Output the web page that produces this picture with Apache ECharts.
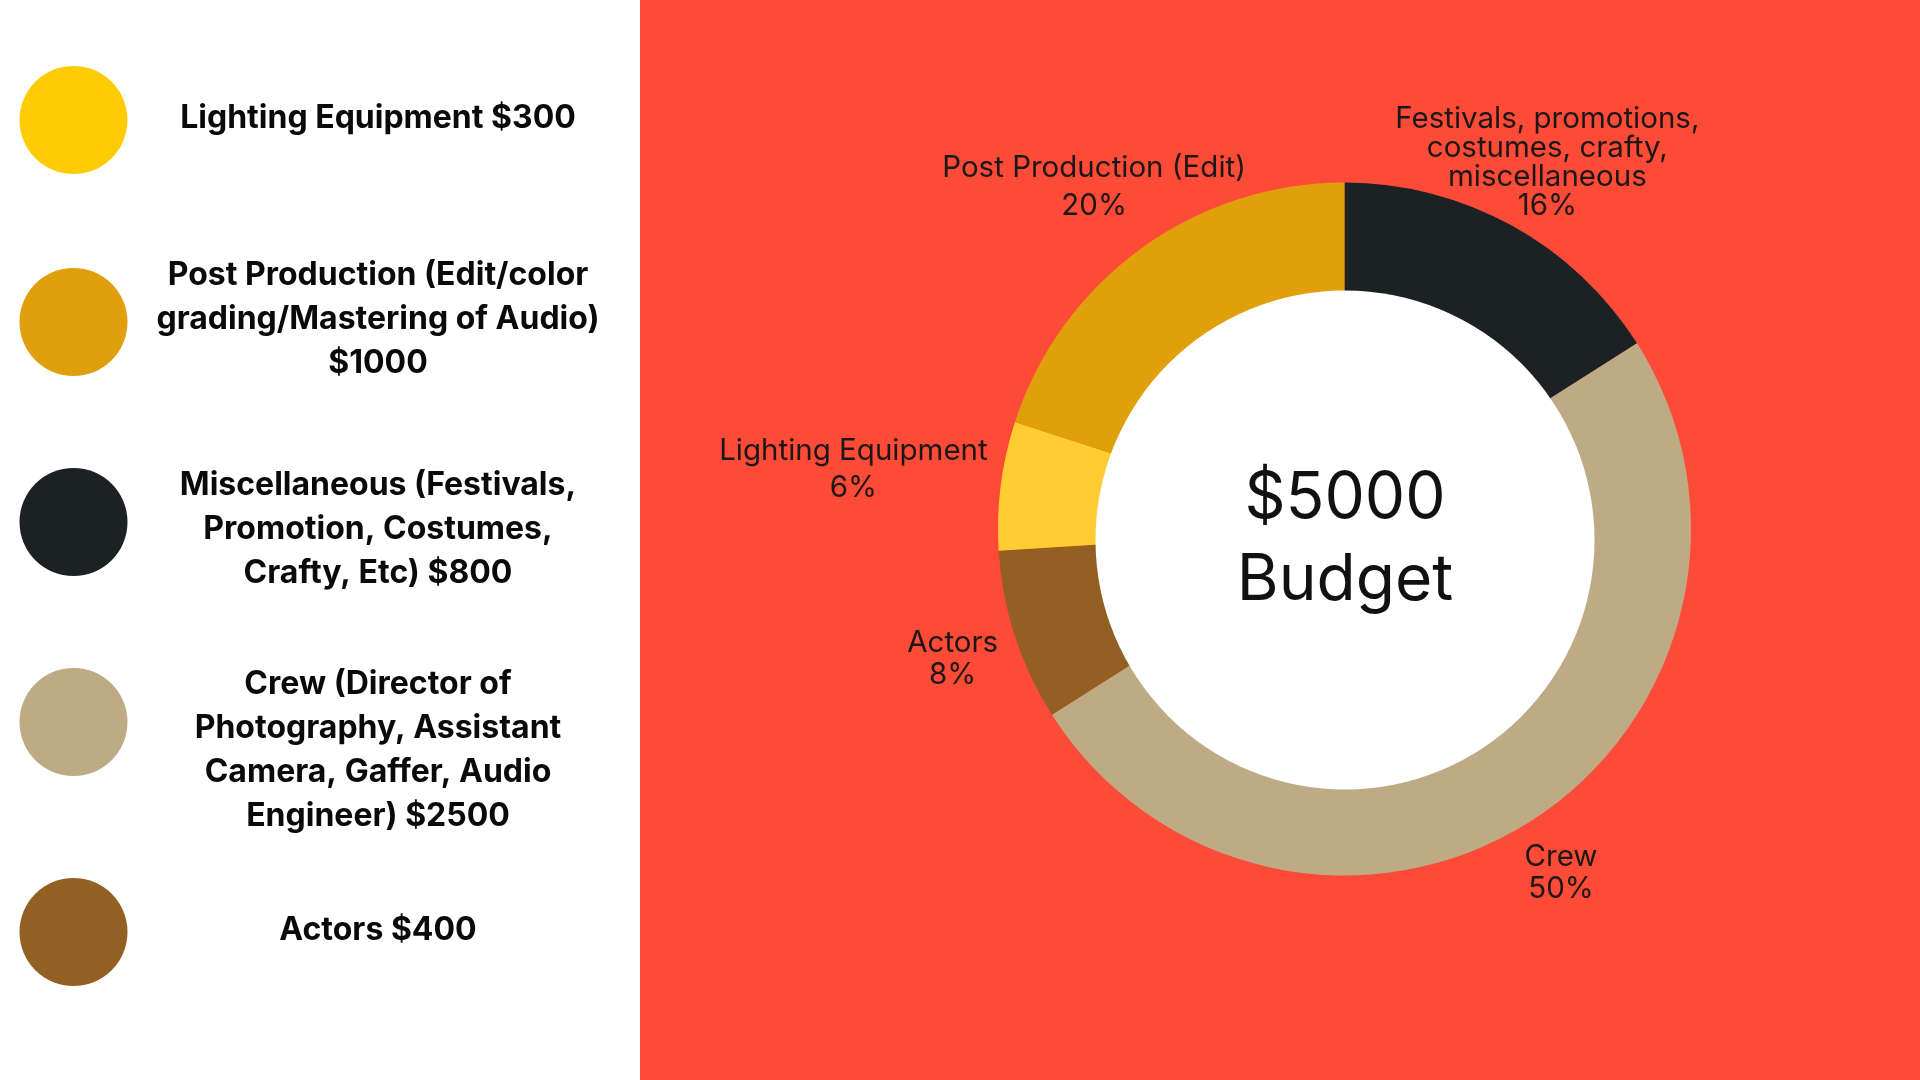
<!DOCTYPE html>
<html lang="en">
  <head>
    <meta charset="UTF-8" />
    <title>Budget</title>
    <script src="https://cdn.jsdelivr.net/npm/echarts@6/dist/echarts.min.js"></script>
    <style>
      html, body { margin: 0; padding: 0; }
      #main {
        width: 1920px;
        height: 1080px;
        background: linear-gradient(to right, #ffffff 0, #ffffff 640px, #fe4b38 640px);
      }
    </style>
  </head>
  <body>
    <div id="main"></div>
    <script>
      // slice order, clockwise from 12 o'clock
      const categories = ['Misc', 'Crew', 'Actors', 'Lighting', 'Post']
      const amounts = [800, 2500, 400, 300, 1000]
      const sliceLabels = [
        'Festivals, promotions,\ncostumes, crafty,\nmiscellaneous',
        'Crew',
        'Actors',
        'Lighting Equipment',
        'Post Production (Edit)',
      ]
      // legend on the left, top to bottom
      const legendOrder = ['Lighting', 'Post', 'Misc', 'Crew', 'Actors']
      const legendTexts = [
        'Lighting Equipment $300',
        'Post Production (Edit/color\ngrading/Mastering of Audio)\n$1000',
        'Miscellaneous (Festivals,\nPromotion, Costumes,\nCrafty, Etc) $800',
        'Crew (Director of\nPhotography, Assistant\nCamera, Gaffer, Audio\nEngineer) $2500',
        'Actors $400',
      ]
      const totalText = '$5000\nBudget'

      // styles
      const sliceColors = ['#1c2224', '#beab86', '#935f22', '#ffcd32', '#e0a00c']
      const legendColors = ['#ffcb02', '#e0a00d', '#1c2224', '#beab86', '#936023']
      const labelDist = [421, 404, 412, 495, 426]
      const labelLineHeights = [29, 32, 32, 37, 38]
      const legendCenters = [120, 328, 522, 722, 932]
      const legendShift = [-2, -3, 7, 28, -2]

      const cx = 1344.5
      const cy = 529
      const total = amounts.reduce((a, b) => a + b, 0)
      const midAngles = []
      let acc = 0
      amounts.forEach((v) => {
        midAngles.push(((acc + v / 2) / total) * Math.PI * 2)
        acc += v
      })

      const legendLH = 44
      const legends = legendOrder.map((key, k) => {
        const lines = legendTexts[k].split('\n').length
        const gapH = Math.abs(legendShift[k]) * 2
        const textH = lines * legendLH + gapH
        const body = `{t|${legendTexts[k]}}`
        const gap = `{g| }`
        const text = legendShift[k] > 0 ? gap + '\n' + body : body + '\n' + gap
        const top = legendCenters[k] - 59 + Math.min(0, 54 - textH / 2)
        return {
          selectedMode: false,
          orient: 'vertical',
          left: 14.5,
          top: top,
          padding: 5,
          icon: 'circle',
          itemWidth: 108,
          itemHeight: 108,
          data: [{ name: key, itemStyle: { color: legendColors[k] } }],
          formatter: () => text,
          textStyle: {
            rich: {
              t: {
                width: 491,
                align: 'center',
                fontFamily: 'Inter',
                fontWeight: 'bold',
                fontSize: 32,
                lineHeight: legendLH,
                color: '#0a0a0a',
              },
              g: { lineHeight: gapH, height: gapH, fontSize: 2 },
            },
          },
        }
      })

      const myChart = echarts.init(document.getElementById('main'))
      const option = {
        animation: false,
        legend: legends,
        graphic: [
          {
            type: 'circle',
            z: 100,
            shape: { cx: 1345, cy: 540, r: 249.5 },
            style: { fill: '#ffffff' },
          },
          {
            type: 'text',
            z: 101,
            x: 1345,
            y: 540,
            style: {
              text: totalText,
              align: 'center',
              verticalAlign: 'middle',
              fontFamily: 'Inter',
              fontSize: 64,
              lineHeight: 82,
              fill: '#111111',
            },
          },
        ],
        series: [
          {
            type: 'pie',
            center: [cx, cy],
            radius: [0, 346.5],
            startAngle: 90,
            clockwise: true,
            avoidLabelOverlap: false,
            percentPrecision: 0,
            emphasis: { disabled: true },
            label: {
              show: true,
              position: 'outside',
              fontFamily: 'Inter',
              fontSize: 29.5,
              color: '#1c1717',
              align: 'center',
              formatter: (p) => `${sliceLabels[p.dataIndex]}\n${p.percent}%`,
            },
            labelLine: { show: false },
            labelLayout: (p) => {
              const a = midAngles[p.dataIndex]
              const d = labelDist[p.dataIndex]
              return {
                x: cx + d * Math.sin(a),
                y: cy - d * Math.cos(a) + 3,
                align: 'center',
                verticalAlign: 'middle',
              }
            },
            data: categories.map((name, i) => ({
              name: name,
              value: amounts[i],
              itemStyle: { color: sliceColors[i] },
              label: { lineHeight: labelLineHeights[i] },
            })),
          },
        ],
      }
      myChart.setOption(option)
    </script>
  </body>
</html>
